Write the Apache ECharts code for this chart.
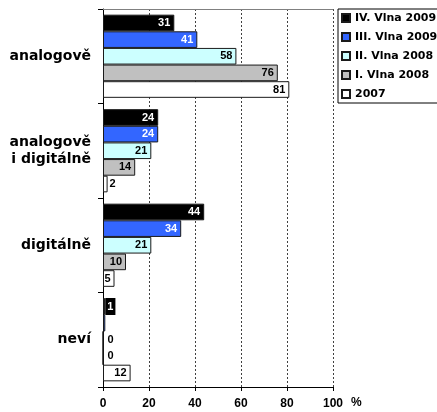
<!DOCTYPE html>
<html>
<head>
<meta charset="utf-8">
<script src="https://cdn.jsdelivr.net/npm/echarts@6/dist/echarts.min.js"></script>
<style>
  html, body { margin: 0; padding: 0; background: #fff; }
  #chart { width: 437px; height: 412px; }
</style>
</head>
<body>
<div id="chart"></div>
<script>
  // data
  var categories = ['analogově', 'analogově\ni digitálně', 'digitálně', 'neví'];
  var seriesNames = ['IV. Vlna 2009', 'III. Vlna 2009', 'II. Vlna 2008', 'I. Vlna 2008', '2007'];
  var vlnaIV2009 = [31, 24, 44, 1];
  var vlnaIII2009 = [41, 24, 34, 1];
  var vlnaII2008 = [58, 21, 21, 0];
  var vlnaI2008 = [76, 14, 10, 0];
  var rok2007 = [81, 2, 5, 12];
  var xTicks = [0, 20, 40, 60, 80, 100];
  // label not printed in the original (series index, category index)
  var hiddenLabels = [[1, 3]];

  var seriesData = [vlnaIV2009, vlnaIII2009, vlnaII2008, vlnaI2008, rok2007];
  var colors = ['#000000', '#3366ff', '#ccffff', '#c0c0c0', '#ffffff'];
  var labelColors = ['#ffffff', '#ffffff', '#000000', '#000000', '#000000'];
  var arial = '"Liberation Sans", Arial, sans-serif';
  var dejavu = '"DejaVu Sans", sans-serif';

  var myChart = echarts.init(document.getElementById('chart'));

  var series = seriesNames.map(function (name, i) {
    return {
      name: name,
      type: 'bar',
      barGap: '0%',
      barCategoryGap: '12%',
      itemStyle: { color: colors[i], borderColor: '#1a1a1a', borderWidth: 1 },
      label: {
        show: true,
        position: 'insideRight',
        distance: 4,
        color: labelColors[i],
        fontFamily: arial,
        fontWeight: 'bold',
        fontSize: 11
      },
      data: seriesData[i].map(function (v, j) {
        var hidden = hiddenLabels.some(function (h) { return h[0] === i && h[1] === j; });
        if (hidden) return { value: v, label: { show: false } };
        if (v < 4) {
          // small bars: label sits right of the bar
          var lab = { position: 'right', distance: v === 0 ? 4 : 2 };
          if (i === 0) {
            lab.distance = 0;
            lab.backgroundColor = '#000';
            lab.padding = [3, 2];
          }
          return { value: v, label: lab };
        }
        return v;
      })
    };
  });

  var option = {
    animation: false,
    backgroundColor: '#fff',
    grid: { left: 103, right: 104, top: 9, bottom: 25 },
    legend: {
      orient: 'vertical',
      left: 338,
      top: 9,
      width: 110,
      padding: [3, 10, 3, 3],
      itemWidth: 8,
      itemHeight: 8,
      itemGap: 7,
      borderColor: '#000',
      borderWidth: 1,
      icon: 'rect',
      data: seriesNames,
      textStyle: { fontFamily: dejavu, fontWeight: 'bold', fontSize: 11, color: '#000', lineHeight: 12 }
    },
    xAxis: [{
      type: 'value',
      min: xTicks[0],
      max: xTicks[xTicks.length - 1],
      interval: xTicks[1] - xTicks[0],
      name: '%',
      nameLocation: 'end',
      nameGap: 18,
      nameTextStyle: { fontFamily: arial, fontWeight: 'bold', fontSize: 12, color: '#000', verticalAlign: 'top', padding: [10, 0, 0, 0] },
      axisLine: { show: true, lineStyle: { color: '#000', width: 1 } },
      axisTick: { show: true, length: 4, lineStyle: { color: '#000' } },
      axisLabel: { margin: 11, fontFamily: arial, fontWeight: 'bold', fontSize: 12, color: '#000' },
      splitLine: { show: true, lineStyle: { color: '#404040', type: [2, 2], width: 1 } }
    }, {
      type: 'value',
      position: 'top',
      min: xTicks[0],
      max: xTicks[xTicks.length - 1],
      axisLine: { show: true, lineStyle: { color: '#808080', width: 1 } },
      axisTick: { show: false },
      axisLabel: { show: false },
      splitLine: { show: false }
    }],
    yAxis: {
      type: 'category',
      inverse: true,
      data: categories,
      axisLine: { show: true, lineStyle: { color: '#000', width: 1 } },
      axisTick: { show: true, length: 5, lineStyle: { color: '#000' } },
      axisLabel: { margin: 12, fontFamily: dejavu, fontWeight: 'bold', fontSize: 14, color: '#000', lineHeight: 17 }
    },
    series: series
  };

  myChart.setOption(option);
</script>
</body>
</html>
